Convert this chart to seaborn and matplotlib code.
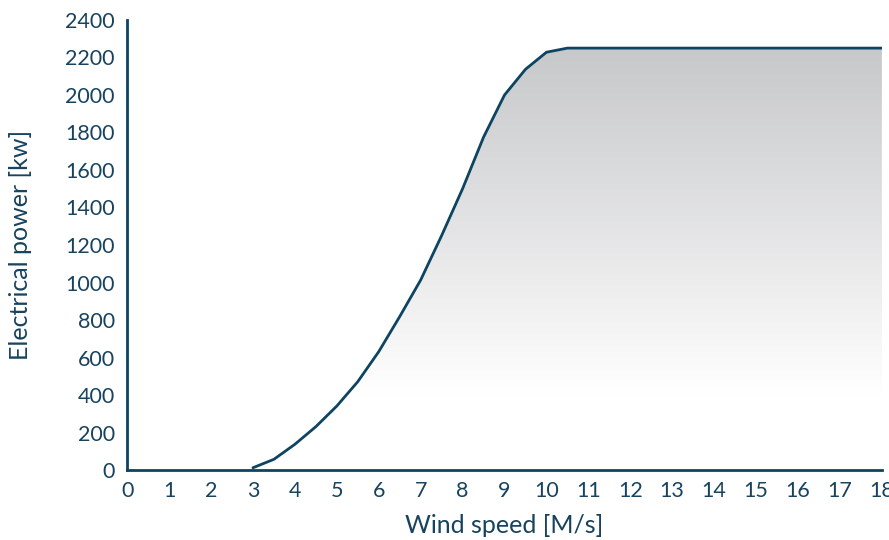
import numpy as np
import pandas as pd
import seaborn as sns
import matplotlib.pyplot as plt
from matplotlib.colors import LinearSegmentedColormap

# power curve
wind_speed = [3, 3.5, 4, 4.5, 5, 5.5, 6, 6.5, 7, 7.5, 8, 8.5, 9, 9.5, 10, 10.5,
              11, 12, 13, 14, 15, 16, 17, 18]
power_kw = [12, 57, 137, 231, 341, 471, 631, 818, 1013, 1250, 1500, 1775, 2000,
            2137, 2228, 2250, 2250, 2250, 2250, 2250, 2250, 2250, 2250, 2250]
x_ticks = list(range(0, 19))
y_ticks = list(range(0, 2401, 200))

navy = "#0d4462"
text_col = "#17435e"

sns.set_theme(style="white")
plt.rcParams["font.family"] = ["Lato", "DejaVu Sans"]

df = pd.DataFrame({"speed": wind_speed, "power": power_kw})

fig = plt.figure(figsize=(8.89, 5.4), dpi=100)
ax = fig.add_axes([0.143, 0.1296, 0.849, 0.8334])

# gradient fill under the curve
cmap = LinearSegmentedColormap.from_list("g", [(0, "#ffffff"), (0.18, "#ffffff"),
                                               (0.45, "#ececed"), (1, "#c7c8ca")])
grad = np.linspace(0, 1, 256).reshape(-1, 1)
poly = ax.fill_between(df["speed"], 0, df["power"], color="none", lw=0)
img = ax.imshow(grad, extent=[0, 18, 0, 2250], origin="lower", aspect="auto",
                cmap=cmap, zorder=1)
img.set_clip_path(poly.get_paths()[0], transform=ax.transData)

sns.lineplot(data=df, x="speed", y="power", color=navy, lw=2, ax=ax, zorder=3)

ax.set_xlim(0, 18)
ax.set_ylim(0, 2400)
ax.set_xticks(x_ticks)
ax.set_yticks(y_ticks)
ax.set_xlabel("Wind speed [M/s]", fontsize=18, color=text_col, labelpad=9)
ax.set_ylabel("Electrical power [kw]", fontsize=18, color=text_col, labelpad=24)
ax.tick_params(axis="both", labelsize=15.5, labelcolor=text_col, colors="#5b7c90",
               direction="out", length=6, width=1.2, pad=3)
ax.tick_params(axis="x", pad=2)
for side in ["top", "right"]:
    ax.spines[side].set_visible(False)
for side in ["left", "bottom"]:
    ax.spines[side].set_color(navy)
    ax.spines[side].set_linewidth(2)

fig.savefig("out.png", dpi=100)
